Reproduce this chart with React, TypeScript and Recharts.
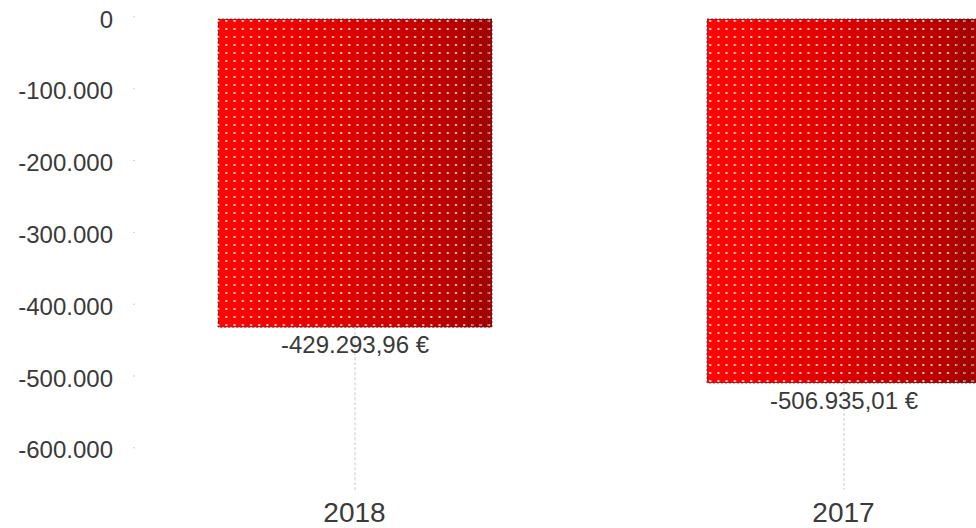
import React from 'react';
import { BarChart, Bar, XAxis, YAxis, LabelList } from 'recharts';

const categories = ['2018', '2017'];
const values = [-429293.96, -506935.01];
const yTicks = [0, -100000, -200000, -300000, -400000, -500000, -600000];
const yDomain = [-656000, 0];

const data = categories.map((c, i) => ({ year: c, value: values[i] }));

const FONT = '"Liberation Sans", Arial, Helvetica, sans-serif';

function groupThousands(intStr: string): string {
  return intStr.replace(/\B(?=(\d{3})+(?!\d))/g, '.');
}

function fmtTick(v: number): string {
  const neg = v < 0;
  const s = groupThousands(String(Math.round(Math.abs(v))));
  return (neg ? '-' : '') + s;
}

function fmtEuro(v: number): string {
  const neg = v < 0;
  const abs = Math.abs(v);
  const fixed = abs.toFixed(2);
  const [ip, dp] = fixed.split('.');
  return (neg ? '-' : '') + groupThousands(ip) + ',' + dp + ' €';
}

const BarShape = (props: any) => {
  const { x, y, width, height, background } = props;
  const top = Math.min(y, y + height);
  const h = Math.abs(height);
  const bottom = top + h;
  const cx = x + width / 2;
  const plotBottom = background ? background.y + background.height : bottom;
  return (
    <g>
      <line x1={cx} x2={cx} y1={bottom} y2={plotBottom} stroke="#c8c8c8" strokeDasharray="3 2" strokeWidth={1} />
      <rect x={x} y={top} width={width} height={h} fill="url(#redGrad)" />
      <rect x={x} y={top} width={width} height={h} fill="url(#dots)" />
      <rect x={x + width - 26} y={top} width={26} height={h} fill="url(#darkTex)" />
      <rect x={x} y={top} width={width} height={h} fill="none" stroke="#222" strokeOpacity={0.7} strokeDasharray="2 2" strokeWidth={1} />
    </g>
  );
};

const YTick = (props: any) => {
  const { x, y, payload } = props;
  return (
    <g>
      <line x1={x + 23} x2={x + 25} y1={y - 2} y2={y - 2} stroke="#cfcfcf" strokeWidth={1} />
      <text x={x + 3} y={y} dy="0.355em" textAnchor="end" fontSize={24} fill="#3a3a3a" fontFamily={FONT}>
        {fmtTick(payload.value)}
      </text>
    </g>
  );
};

const ValueLabel = (props: any) => {
  const { x, y, width, height, value } = props;
  const bottom = Math.max(y, y + height);
  return (
    <text x={x + width / 2} y={bottom + 26} textAnchor="middle" fontSize={24} fill="#3a3a3a" fontFamily={FONT}>
      {fmtEuro(value)}
    </text>
  );
};

export default function App() {
  return (
    <div style={{ position: 'fixed', left: 0, top: 0, width: 976, height: 528, overflow: 'hidden', background: '#fff' }}>
      <BarChart width={1088} height={528} data={data} margin={{ top: 19, right: 0, bottom: 0, left: 0 }} barSize={274}>
        <defs>
          <linearGradient id="redGrad" x1="0" y1="0" x2="1" y2="0">
            <stop offset="0%" stopColor="#ff0606" />
            <stop offset="50%" stopColor="#dc0000" />
            <stop offset="100%" stopColor="#a80000" />
          </linearGradient>
          <pattern id="dots" patternUnits="userSpaceOnUse" width={8.2} height={8} x={2} y={2}>
            <rect x={2} y={2} width={2} height={2} fill="#ffffff" fillOpacity={0.8} />
          </pattern>
          <pattern id="darkTex" patternUnits="userSpaceOnUse" width={4} height={4}>
            <rect x={0} y={0} width={1} height={2} fill="#000" fillOpacity={0.35} />
          </pattern>
        </defs>
        <XAxis
          dataKey="year"
          height={38}
          axisLine={false}
          tickLine={false}
          tickSize={6}
          tickMargin={6}
          tick={{ fontSize: 28, fill: '#3a3a3a', fontFamily: FONT }}
        />
        <YAxis
          width={110}
          domain={yDomain}
          ticks={yTicks}
          axisLine={false}
          tickLine={false}
          tickSize={0}
          tickMargin={0}
          tick={<YTick />}
          interval={0}
        />
        <Bar dataKey="value" shape={<BarShape />} isAnimationActive={false}>
          <LabelList dataKey="value" content={<ValueLabel />} />
        </Bar>
      </BarChart>
    </div>
  );
}
